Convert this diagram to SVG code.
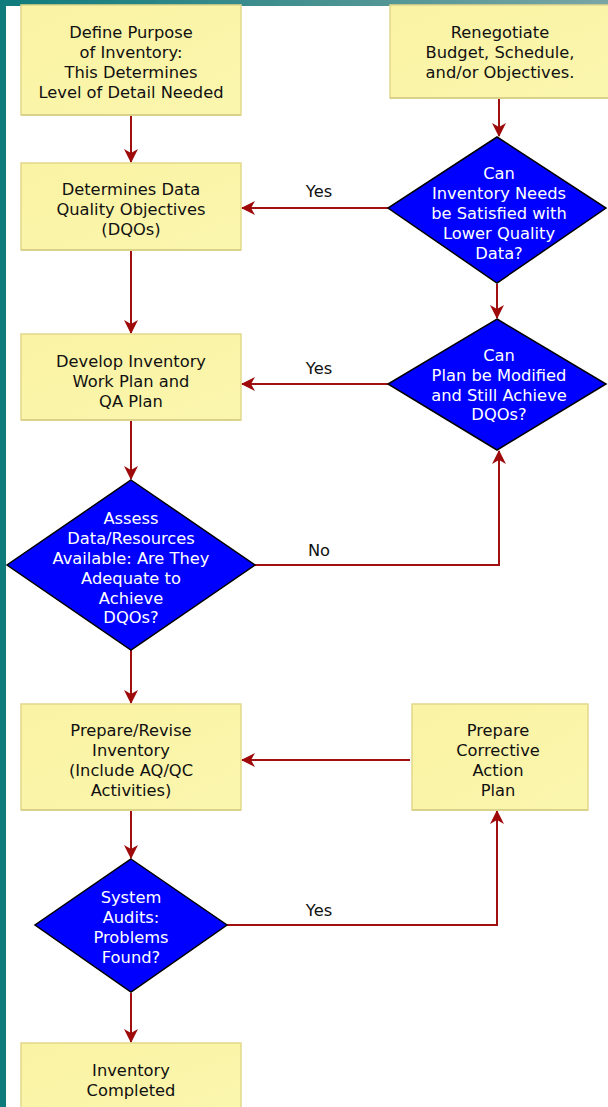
<svg xmlns="http://www.w3.org/2000/svg" width="608" height="1107" viewBox="0 0 608 1107">
<defs>
<linearGradient id="topbar" x1="0" y1="0" x2="1" y2="0">
<stop offset="0" stop-color="#0f7b7b"/>
<stop offset="1" stop-color="#7aa5a5"/>
</linearGradient>
<linearGradient id="boxfill" x1="0" y1="0" x2="1" y2="1">
<stop offset="0" stop-color="#faf3a4"/>
<stop offset="1" stop-color="#fbf6ae"/>
</linearGradient>
<marker id="arr" viewBox="0 0 14 14" refX="13" refY="7" markerWidth="14" markerHeight="14" markerUnits="userSpaceOnUse" orient="auto">
<path d="M0,0 L14,7 L0,14 L4,7 Z" fill="#9e0a0a"/>
</marker>
</defs>
<style>
.box{fill:url(#boxfill);stroke:#e2d88a;stroke-width:1.5}
.sh{fill:none;stroke:#d6cc84;stroke-width:1.5}
.dia{fill:#0000ff;stroke:#000;stroke-width:1.5}
.t{font-family:"DejaVu Sans",Verdana,sans-serif;font-size:16.3px;text-anchor:middle;fill:#111}
.w{font-family:"DejaVu Sans",Verdana,sans-serif;font-size:16.3px;text-anchor:middle;fill:#ffffff}
.lbl{font-family:"DejaVu Sans",Verdana,sans-serif;font-size:16.3px;text-anchor:middle;fill:#111}
.c{fill:none;stroke:#a01010;stroke-width:2;marker-end:url(#arr)}
</style>
<rect x="0" y="0" width="608" height="1107" fill="#ffffff"/>
<rect x="0" y="0" width="6" height="1107" fill="#0f7b7b"/>
<rect x="0" y="0" width="608" height="6" fill="url(#topbar)"/>

<g id="connectors">
<path class="c" d="M131,116 V162"/>
<path class="c" d="M499,99 V136"/>
<path class="c" d="M388,208 H242"/>
<path class="c" d="M131,251 V333"/>
<path class="c" d="M497,284 V318"/>
<path class="c" d="M388,384 H242"/>
<path class="c" d="M131,421 V479"/>
<path class="c" d="M255,565 H499 V451"/>
<path class="c" d="M131,650 V703"/>
<path class="c" d="M410,760 H242"/>
<path class="c" d="M131,811 V858"/>
<path class="c" d="M227,925 H497 V811"/>
<path class="c" d="M131,993 V1042"/>
<text class="lbl" x="319" y="197">Yes</text>
<text class="lbl" x="319" y="374">Yes</text>
<text class="lbl" x="319" y="556">No</text>
<text class="lbl" x="319" y="916">Yes</text>
</g>

<g id="n1">
<rect class="box" x="21" y="5" width="220" height="110"/>
<path class="sh" d="M21,115 H241"/>
<text class="t" x="131" y="38">Define Purpose</text>
<text class="t" x="131" y="58">of Inventory:</text>
<text class="t" x="131" y="78">This Determines</text>
<text class="t" x="131" y="98">Level of Detail Needed</text>
</g>
<g id="n2">
<rect class="box" x="390" y="5" width="220" height="93"/>
<path class="sh" d="M390,98 H608"/>
<text class="t" x="500" y="38">Renegotiate</text>
<text class="t" x="500" y="58">Budget, Schedule,</text>
<text class="t" x="500" y="78">and/or Objectives.</text>
</g>
<g id="n3">
<rect class="box" x="21" y="163" width="220" height="87"/>
<path class="sh" d="M21,250 H241"/>
<text class="t" x="131" y="195">Determines Data</text>
<text class="t" x="131" y="215">Quality Objectives</text>
<text class="t" x="131" y="235">(DQOs)</text>
</g>
<g id="n4">
<polygon class="dia" points="497,137 606,208 497,283 388,208"/>
<text class="w" x="499" y="179">Can</text>
<text class="w" x="499" y="199">Inventory Needs</text>
<text class="w" x="499" y="219">be Satisfied with</text>
<text class="w" x="499" y="239">Lower Quality</text>
<text class="w" x="499" y="259">Data?</text>
</g>
<g id="n5">
<rect class="box" x="21" y="334" width="220" height="86"/>
<path class="sh" d="M21,420 H241"/>
<text class="t" x="131" y="367">Develop Inventory</text>
<text class="t" x="131" y="387">Work Plan and</text>
<text class="t" x="131" y="407">QA Plan</text>
</g>
<g id="n6">
<polygon class="dia" points="497,319 606,384 497,450 388,384"/>
<text class="w" x="499" y="361">Can</text>
<text class="w" x="499" y="381">Plan be Modified</text>
<text class="w" x="499" y="401">and Still Achieve</text>
<text class="w" x="499" y="420">DQOs?</text>
</g>
<g id="n7">
<polygon class="dia" points="131,480 255,565 131,650 7,565"/>
<text class="w" x="131" y="524">Assess</text>
<text class="w" x="131" y="544">Data/Resources</text>
<text class="w" x="131" y="564">Available: Are They</text>
<text class="w" x="131" y="584">Adequate to</text>
<text class="w" x="131" y="604">Achieve</text>
<text class="w" x="131" y="623">DQOs?</text>
</g>
<g id="n8">
<rect class="box" x="21" y="704" width="220" height="106"/>
<path class="sh" d="M21,810 H241"/>
<text class="t" x="131" y="736">Prepare/Revise</text>
<text class="t" x="131" y="756">Inventory</text>
<text class="t" x="131" y="776">(Include AQ/QC</text>
<text class="t" x="131" y="796">Activities)</text>
</g>
<g id="n9">
<rect class="box" x="412" y="704" width="176" height="106"/>
<path class="sh" d="M412,810 H588"/>
<text class="t" x="498" y="736">Prepare</text>
<text class="t" x="498" y="756">Corrective</text>
<text class="t" x="498" y="776">Action</text>
<text class="t" x="498" y="796">Plan</text>
</g>
<g id="n10">
<polygon class="dia" points="131,859 227,925 131,992 35,925"/>
<text class="w" x="131" y="903">System</text>
<text class="w" x="131" y="923">Audits:</text>
<text class="w" x="131" y="943">Problems</text>
<text class="w" x="131" y="963">Found?</text>
</g>
<g id="n11">
<rect class="box" x="21" y="1043" width="220" height="70"/>
<text class="t" x="131" y="1076">Inventory</text>
<text class="t" x="131" y="1096">Completed</text>
</g>
</svg>
